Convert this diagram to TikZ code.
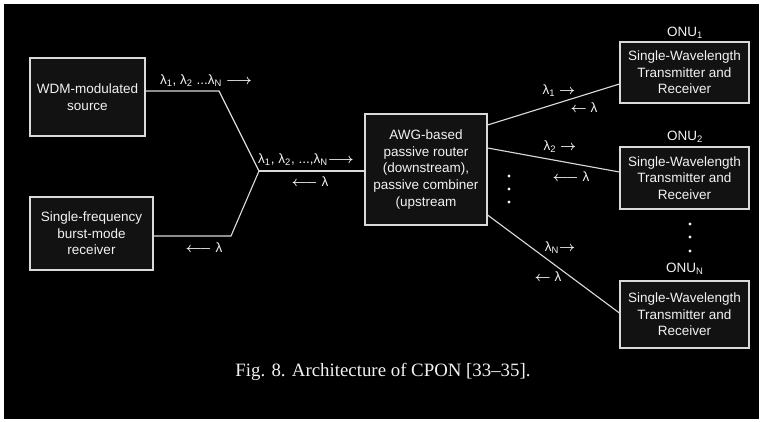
\documentclass[tikz,border=0pt]{standalone}
\usepackage{fontspec}
\setmainfont{Liberation Sans}
\newfontfamily\captionserif[Ligatures=TeX]{Liberation Serif}
\definecolor{cponLine}{HTML}{DADADA}
\definecolor{cponText}{HTML}{F2F2F2}
\definecolor{cponBox}{HTML}{121212}
\usetikzlibrary{calc}

\begin{document}
\begin{tikzpicture}[x=0.025cm, y=-0.025cm,
        unit/.style={draw=cponLine, fill=cponBox, line width=0.8pt, text=cponText, align=center, font=\fontsize{9.6}{11.8}\selectfont, inner sep=0pt},
        onu/.style={unit, minimum width=3.225cm, minimum height=1.55cm},
        fibre/.style={draw=cponLine, line width=0.8pt},
        wave/.style={text=cponText, font=\fontsize{9.6}{11.8}\selectfont\boldmath, inner sep=0pt}]
        % Background
        \fill[white] (0,0) rectangle (763,421);
        \fill[black] (4,4) rectangle (759,419);

        % Central office
        \node[unit, minimum width=2.875cm, minimum height=1.95cm] (wdm) at (87.5,97) {WDM-modulated\\source};
        \node[unit, minimum width=3.075cm, minimum height=1.825cm] (sfr) at (91.5,233.5) {Single-frequency\\burst-mode\\receiver};

        % Remote node
        \node[unit, minimum width=3.05cm, minimum height=2.775cm] (awg) at (426,169.5) {AWG-based\\passive router\\(downstream),\\passive combiner\\(upstream};

        % ONUs
        \node[onu, minimum height=1.525cm] (onu1) at (684.5,72.5) {Single-Wavelength\\Transmitter and\\Receiver};
        \node[onu] (onu2) at (684.5,178) {Single-Wavelength\\Transmitter and\\Receiver};
        \node[onu, minimum height=1.675cm] (onuN) at (684.5,314.5) {Single-Wavelength\\Transmitter and\\Receiver};
        \node[wave] (onu1lbl) at (685,33) {ONU\textsubscript{1}};
        \node[wave] (onu2lbl) at (685,137) {ONU\textsubscript{2}};
        \node[wave] (onuNlbl) at (685,269) {ONU\textsubscript{N}};

        % Feeder fibres
        \coordinate (kneeUp) at (219,91);
        \coordinate (kneeDown) at (231,236);
        \coordinate (split) at (259,171);
        \draw[fibre] (wdm.east |- kneeUp) -- (kneeUp) -- (split);
        \draw[fibre] (sfr.east |- kneeDown) -- (kneeDown) -- (split);
        \draw[fibre] (split) -- (awg.west |- split);

        % Distribution fibres
        \draw[fibre] ($(awg.east)+(0,-44.5)$) -- ($(onu1.west)+(0,11.5)$);
        \draw[fibre] ($(awg.east)+(0,-21.5)$) -- ($(onu2.west)+(0,-6)$);
        \draw[fibre] ($(awg.east)+(0,45.5)$) -- ($(onuN.west)+(0,-1.5)$);

        % Wavelength labels
        \node[wave] (dsAll) at (206,81) {λ\textsubscript{1}, λ\textsubscript{2} ...λ\textsubscript{N} $\longrightarrow$};
        \node[wave] (dsFeed) at (306,160) {λ\textsubscript{1}, λ\textsubscript{2}, ...,λ\textsubscript{N}$\longrightarrow$};
        \node[wave] (usFeed) at (310,182) {$\longleftarrow$ λ};
        \node[wave] (usRx) at (204,248) {$\longleftarrow$ λ};
        \node[wave] (ds1) at (559,91) {λ\textsubscript{1} $\rightarrow$};
        \node[wave] (us1) at (584,108) {$\leftarrow$ λ};
        \node[wave] (ds2) at (560,147) {λ\textsubscript{2} $\rightarrow$};
        \node[wave] (us2) at (571,177) {$\longleftarrow$ λ};
        \node[wave] (dsN) at (560,248) {λ\textsubscript{N}$\rightarrow$};
        \node[wave] (usN) at (548,277) {$\leftarrow$ λ};

        % Vertical dots
        \foreach \y in {176,189,202} \fill[cponText] (509,\y) circle (1.1pt);
        \foreach \y in {224,237,251} \fill[cponText] (690,\y) circle (1.1pt);

        % Caption
        \node[text=cponText, font=\captionserif\fontsize{13.4}{15}\selectfont] (caption) at (383,372) {Fig. 8. Architecture of CPON [33--35].};
    \end{tikzpicture}
\end{document}
